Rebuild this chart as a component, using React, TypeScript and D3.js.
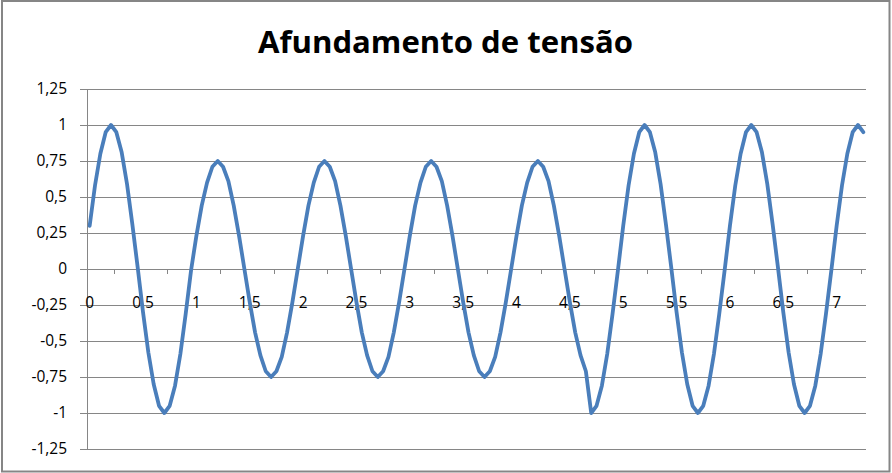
import React from 'react';
import * as d3 from 'd3';

// sampled every 0.05 from 0 to 7.25 (146 points)
const step = 0.05;
const pointCount = 146;

const voltage: number[] = [
  0.3, 0.58, 0.8, 0.95, 1, 0.95, 0.81, 0.59, 0.31, 0.01, -0.3, -0.58, -0.8, -0.95, -1, -0.95, -0.81, -0.59, -0.31, -0.01,
  0.23, 0.44, 0.6, 0.71, 0.75, 0.71, 0.61, 0.44, 0.23, 0, -0.23, -0.44, -0.6, -0.71, -0.75, -0.71, -0.61, -0.44, -0.23, 0,
  0.23, 0.44, 0.6, 0.71, 0.75, 0.71, 0.61, 0.44, 0.23, 0, -0.23, -0.44, -0.6, -0.71, -0.75, -0.71, -0.61, -0.44, -0.23, 0,
  0.23, 0.44, 0.6, 0.71, 0.75, 0.71, 0.61, 0.44, 0.23, 0, -0.23, -0.44, -0.6, -0.71, -0.75, -0.71, -0.61, -0.44, -0.23, 0,
  0.23, 0.44, 0.6, 0.71, 0.75, 0.71, 0.61, 0.44, 0.23, 0, -0.23, -0.44, -0.6, -0.71, -1, -0.95, -0.81, -0.59, -0.31, -0.01,
  0.3, 0.58, 0.8, 0.95, 1, 0.95, 0.81, 0.59, 0.31, 0.01, -0.3, -0.58, -0.8, -0.95, -1, -0.95, -0.81, -0.59, -0.31, -0.01,
  0.3, 0.58, 0.8, 0.95, 1, 0.95, 0.81, 0.59, 0.31, 0.01, -0.3, -0.58, -0.8, -0.95, -1, -0.95, -0.81, -0.59, -0.31, -0.01,
  0.3, 0.58, 0.8, 0.95, 1, 0.95,
];

const yTicks = [-1.25, -1, -0.75, -0.5, -0.25, 0, 0.25, 0.5, 0.75, 1, 1.25];
const xLabels = ['0', '0,5', '1', '1,5', '2', '2,5', '3', '3,5', '4', '4,5', '5', '5,5', '6', '6,5', '7'];
const labelEvery = 10; // one label every 10 samples
const tickEvery = 10;  // tick marks between categories, offset by 5

const fmt = (v: number) => String(v).replace('.', ',');

const App: React.FC = () => {
  const W = 892;
  const H = 473;
  const left = 87;
  const right = 866;
  const top = 89;
  const bottom = 449;

  const x = d3.scaleLinear().domain([0, pointCount]).range([left, right]);
  const y = d3.scaleLinear().domain([-1.25, 1.25]).range([bottom, top]);

  const line = d3.line<number>()
    .x((_, i) => x(i + 0.5))
    .y(d => y(d));

  const tickIdx = d3.range(5, pointCount, tickEvery);
  const font = "'Open Sans', 'Liberation Sans', sans-serif";

  return (
    <svg width={W} height={H} style={{ display: 'block' }}>
      <style>{`body{margin:0}`}</style>
      <rect x={0} y={0} width={W} height={H} fill="#fff" />
      <rect x={2} y={1} width={887.5} height={470.5} fill="none" stroke="#868686" strokeWidth={2} />

      <text x={445.5} y={53} textAnchor="middle" fontFamily={font} fontWeight="bold" fontSize={30}
        textLength={375} lengthAdjust="spacingAndGlyphs" fill="#000">
        Afundamento de tensão
      </text>

      {/* gridlines + y labels */}
      {yTicks.map(t => (
        <g key={t}>
          <line x1={left - 7} x2={right} y1={Math.round(y(t)) + 0.5} y2={Math.round(y(t)) + 0.5} stroke="#868686" strokeWidth={1} />
          <text x={67} y={y(t)} dy="0.35em" textAnchor="end" fontFamily={font} fontSize={15.5} fill="#000">
            {fmt(t)}
          </text>
        </g>
      ))}

      {/* vertical axis */}
      <line x1={left + 0.5} x2={left + 0.5} y1={top} y2={bottom} stroke="#868686" strokeWidth={1} />

      {/* category axis at 0 */}
      {tickIdx.map(i => (
        <line key={i} x1={Math.round(x(i)) + 0.5} x2={Math.round(x(i)) + 0.5} y1={y(0)} y2={y(0) + 5} stroke="#868686" strokeWidth={1} />
      ))}
      {xLabels.map((lab, k) => (
        <text key={lab} x={x(k * labelEvery + 0.5)} y={308} textAnchor="middle" fontFamily={font} fontSize={15.5} fill="#000">
          {lab}
        </text>
      ))}

      <path d={line(voltage) || ''} fill="none" stroke="#4A7EBB" strokeWidth={3.8} strokeLinejoin="round" strokeLinecap="round" />
    </svg>
  );
};

export default App;
